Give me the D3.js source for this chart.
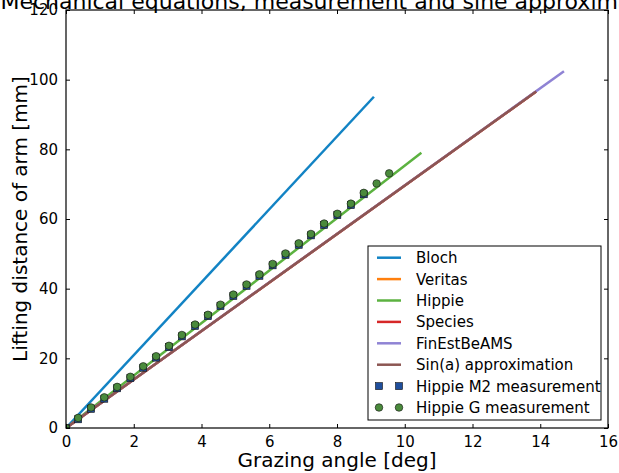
<!DOCTYPE html>
<html>
<head>
<meta charset="utf-8">
<script src="https://cdn.jsdelivr.net/npm/d3@7"></script>
<style>
  body { margin: 0; background: #fff; }
  svg { display: block; font-family: "DejaVu Sans", sans-serif; }
</style>
</head>
<body>
<div id="vis"></div>
<script>
const chartTitle = "Mechanical equations, measurement and sine approximation";
const xLabel = "Grazing angle [deg]";
const yLabel = "Lifting distance of arm [mm]";
const xTicks = [0, 2, 4, 6, 8, 10, 12, 14, 16];
const yTicks = [0, 20, 40, 60, 80, 100, 120];

// equation lines (angle in deg, lift in mm)
const blochAngle = [0, 9.09];
const blochLift = [0, 95.1];
const veritasAngle = [0, 13.88];   // hidden under the sine line
const veritasLift = [0, 96.6];
const hippieAngle = [0, 10.49];
const hippieLift = [0, 79.0];
const speciesAngle = [0, 13.88];   // hidden under the sine line
const speciesLift = [0, 96.6];
const finestAngle = [0, 14.7];
const finestLift = [0, 102.4];
const sinAngle = [0, 13.88];
const sinLift = [0, 96.6];

// measurements
const m2Angle = [0, 0.36, 0.74, 1.13, 1.51, 1.90, 2.28, 2.66, 3.04, 3.42, 3.81, 4.19,
                 4.56, 4.94, 5.33, 5.71, 6.10, 6.48, 6.87, 7.23, 7.62, 8.01, 8.41, 8.79];
const m2Lift = [0, 2.5, 5.5, 8.4, 11.4, 14.3, 17.3, 20.2, 23.2, 26.3, 29.3, 32.1,
                35.0, 37.9, 40.8, 43.7, 46.7, 49.7, 52.6, 55.3, 58.3, 61.1, 64.0, 67.1];
const gAngle = [0, 0.36, 0.74, 1.13, 1.51, 1.90, 2.28, 2.66, 3.04, 3.42, 3.81, 4.19, 4.56,
                4.94, 5.33, 5.71, 6.10, 6.48, 6.87, 7.23, 7.62, 8.01, 8.41, 8.79, 9.17, 9.54];
const gLift = [0, 2.9, 5.9, 8.8, 11.8, 14.7, 17.7, 20.6, 23.6, 26.7, 29.7, 32.5, 35.4,
               38.3, 41.2, 44.1, 47.1, 50.1, 53.0, 55.7, 58.7, 61.5, 64.4, 67.5, 70.2, 73.1];

const lineNames = ["Bloch", "Veritas", "Hippie", "Species", "FinEstBeAMS", "Sin(a) approximation"];
const lineColors = ["#1283c4", "#ff7f0e", "#5cb240", "#d62728", "#8f83d4", "#8c5652"];
const lineAngles = [blochAngle, veritasAngle, hippieAngle, speciesAngle, finestAngle, sinAngle];
const lineLifts = [blochLift, veritasLift, hippieLift, speciesLift, finestLift, sinLift];

const W = 619, H = 473;
const margin = { top: 10, right: 11, bottom: 45, left: 66 };
const width = W - margin.left - margin.right;
const height = H - margin.top - margin.bottom;

const svg = d3.select("#vis").append("svg").attr("width", W).attr("height", H);

svg.append("defs").append("clipPath").attr("id", "plotclip")
  .append("rect").attr("width", width).attr("height", height);

const g = svg.append("g").attr("transform", `translate(${margin.left},${margin.top})`);

const x = d3.scaleLinear().domain([0, 16]).range([0, width]);
const y = d3.scaleLinear().domain([0, 120]).range([height, 0]);

// title (runs off the page like the original)
svg.append("text")
  .attr("x", margin.left + width / 2).attr("y", 9)
  .attr("text-anchor", "middle").attr("font-size", 22)
  .text(chartTitle);

// data
const plot = g.append("g").attr("clip-path", "url(#plotclip)");
const line = d3.line().x(d => x(d[0])).y(d => y(d[1]));

lineNames.forEach((name, i) => {
  const pts = lineAngles[i].map((a, j) => [a, lineLifts[i][j]]);
  plot.append("path").datum(pts)
    .attr("fill", "none").attr("stroke", lineColors[i])
    .attr("stroke-width", 2.5).attr("d", line);
});

const m2 = m2Angle.map((a, j) => [a, m2Lift[j]]);
plot.selectAll("rect.m2").data(m2).join("rect")
  .attr("class", "m2")
  .attr("x", d => x(d[0]) - 3.5).attr("y", d => y(d[1]) - 3.5)
  .attr("width", 7).attr("height", 7)
  .attr("fill", "#1f4f9c").attr("stroke", "#111").attr("stroke-width", 0.6);

const gm = gAngle.map((a, j) => [a, gLift[j]]);
plot.selectAll("circle.gm").data(gm).join("circle")
  .attr("class", "gm")
  .attr("cx", d => x(d[0])).attr("cy", d => y(d[1])).attr("r", 3.8)
  .attr("fill", "#4a8a3c").attr("stroke", "#111").attr("stroke-width", 0.6);

// axes, ticks pointing inward on all four sides
const tickLen = 4;
const xAxisB = d3.axisBottom(x).tickValues(xTicks).tickSizeInner(-tickLen).tickSizeOuter(0).tickPadding(8);
const xAxisT = d3.axisTop(x).tickValues(xTicks).tickSizeInner(-tickLen).tickSizeOuter(0).tickFormat("");
const yAxisL = d3.axisLeft(y).tickValues(yTicks).tickSizeInner(-tickLen).tickSizeOuter(0).tickPadding(8);
const yAxisR = d3.axisRight(y).tickValues(yTicks).tickSizeInner(-tickLen).tickSizeOuter(0).tickFormat("");

g.append("g").attr("transform", `translate(0,${height})`).call(xAxisB);
g.append("g").call(xAxisT);
g.append("g").call(yAxisL);
g.append("g").attr("transform", `translate(${width},0)`).call(yAxisR);

g.selectAll(".tick text").attr("font-size", 15).attr("font-family", "DejaVu Sans").attr("fill", "#000");
g.selectAll(".tick line").attr("stroke", "#000");
g.selectAll(".domain").remove();

g.append("rect").attr("width", width).attr("height", height)
  .attr("fill", "none").attr("stroke", "#000").attr("stroke-width", 1.2);

// axis labels
svg.append("text")
  .attr("x", margin.left + width / 2).attr("y", 467)
  .attr("text-anchor", "middle").attr("font-size", 20)
  .text(xLabel);
svg.append("text")
  .attr("transform", `translate(27,${margin.top + height / 2}) rotate(-90)`)
  .attr("text-anchor", "middle").attr("font-size", 20)
  .text(yLabel);

// legend
const legend = svg.append("g").attr("transform", "translate(368,246)");
legend.append("rect").attr("width", 233).attr("height", 174)
  .attr("fill", "#fff").attr("stroke", "#000").attr("stroke-width", 1);

const rowY = i => 11.7 + i * 21.4;
lineNames.forEach((name, i) => {
  legend.append("line")
    .attr("x1", 9).attr("x2", 33).attr("y1", rowY(i)).attr("y2", rowY(i))
    .attr("stroke", lineColors[i]).attr("stroke-width", 2.5);
});
[11, 31].forEach(cx => {
  legend.append("rect").attr("x", cx - 3.5).attr("y", rowY(6) - 3.5)
    .attr("width", 7).attr("height", 7)
    .attr("fill", "#1f4f9c").attr("stroke", "#111").attr("stroke-width", 0.6);
  legend.append("circle").attr("cx", cx).attr("cy", rowY(7)).attr("r", 3.8)
    .attr("fill", "#4a8a3c").attr("stroke", "#111").attr("stroke-width", 0.6);
});
const legendLabels = lineNames.concat(["Hippie M2 measurement", "Hippie G measurement"]);
legend.selectAll("text.lbl").data(legendLabels).join("text")
  .attr("class", "lbl")
  .attr("x", 48).attr("y", (d, i) => rowY(i) + 5.5)
  .attr("font-size", 15)
  .text(d => d);
</script>
</body>
</html>
